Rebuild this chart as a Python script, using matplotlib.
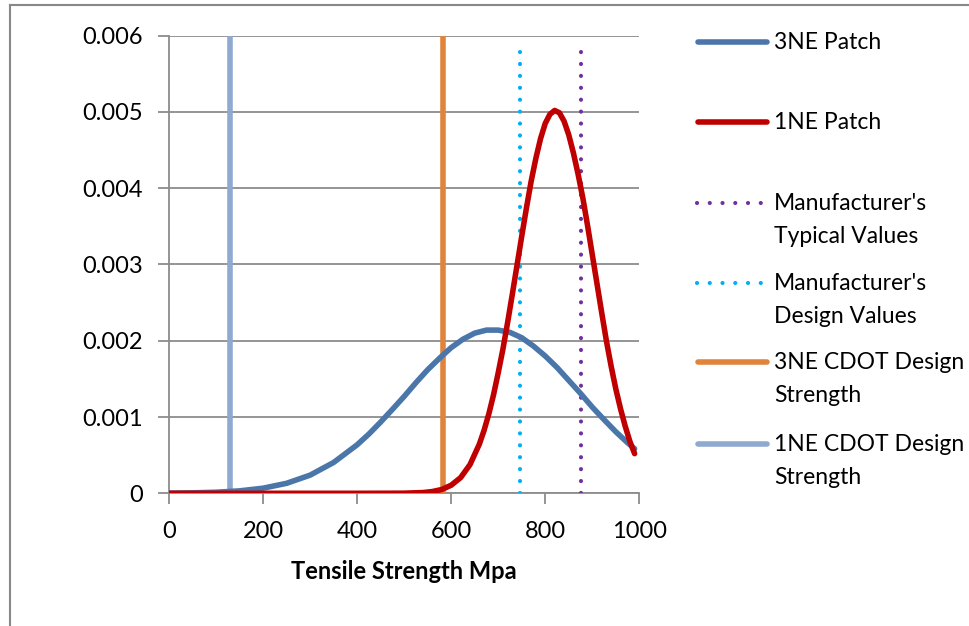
import numpy as np
import matplotlib
matplotlib.use("Agg")
import matplotlib.pyplot as plt
from matplotlib.lines import Line2D

plt.rcParams["font.family"] = ["Lato", "DejaVu Sans"]

# 3NE patch curve
x_3ne = [0, 50, 100, 150, 200, 250, 300, 350, 400, 425, 450, 475, 500, 525, 550,
         575, 600, 625, 650, 675, 700, 725, 750, 775, 800, 825, 850, 875, 900,
         925, 950, 975, 990]
y_3ne = [0.000002, 0.000006, 0.000014, 0.000032, 0.000067, 0.000131, 0.000238,
         0.000404, 0.000636, 0.000777, 0.000934, 0.00110, 0.00127, 0.00145,
         0.00162, 0.00177, 0.00191, 0.00202, 0.00210, 0.00214, 0.00214, 0.00211,
         0.00204, 0.00193, 0.00180, 0.00165, 0.00148, 0.00131, 0.00113,
         0.000966, 0.000807, 0.000663, 0.000584]

# 1NE patch curve
x_1ne = [0, 100, 200, 300, 400, 500, 540, 560, 580, 600, 620, 640, 660, 670, 680,
         690, 700, 710, 720, 730, 740, 750, 760, 770, 780, 790, 800, 810, 820,
         830, 840, 850, 860, 870, 880, 890, 900, 910, 920, 930, 940, 950, 960,
         970, 980, 990]
y_1ne = [0, 0, 0, 0, 0, 0.0000015, 0.0000098, 0.000023, 0.00005, 0.000106,
         0.000205, 0.000376, 0.000646, 0.000827, 0.00104, 0.00129, 0.00158,
         0.00189, 0.00224, 0.00261, 0.00299, 0.00337, 0.00374, 0.00409, 0.00439,
         0.00465, 0.00485, 0.00497, 0.00502, 0.00499, 0.00488, 0.00470, 0.00446,
         0.00418, 0.00387, 0.00351, 0.00313, 0.00275, 0.00237, 0.00200, 0.00167,
         0.00137, 0.00111, 0.00088, 0.00068, 0.00052]

# vertical reference lines
typical_x = 877
design_x = 746
cdot_3ne_x = 583
cdot_1ne_x = 130
ref_top = 0.006
dot_top = 0.00588

x_ticks = [0, 200, 400, 600, 800, 1000]
y_ticks = [0, 0.001, 0.002, 0.003, 0.004, 0.005, 0.006]
y_tick_labels = ["0", "0.001", "0.002", "0.003", "0.004", "0.005", "0.006"]

c_3ne = "#4A76AA"
c_1ne = "#C00000"
c_typ = "#7030A0"
c_des = "#00B0F0"
c_cdot3 = "#E0843C"
c_cdot1 = "#8FA9D1"
grid_c = "#8C8C8C"

W, H = 969, 626
fig = plt.figure(figsize=(W / 100, H / 100), dpi=100)
ax = fig.add_axes([169 / W, 1 - 493.3 / H, (639.3 - 169) / W, (493.3 - 35.7) / H])

lw = 4.0
dlw = 3.0
dot = (0, (0.01, 2.85))

ax.plot([cdot_1ne_x, cdot_1ne_x], [0, ref_top], color=c_cdot1, lw=lw, zorder=3)
ax.plot([cdot_3ne_x, cdot_3ne_x], [0, ref_top], color=c_cdot3, lw=lw, zorder=3)
ax.plot([design_x, design_x], [0, dot_top], color=c_des, lw=dlw, ls=dot,
        dash_capstyle="round", zorder=4)
ax.plot([typical_x, typical_x], [0, dot_top], color=c_typ, lw=dlw, ls=dot,
        dash_capstyle="round", zorder=4)
ax.plot(x_3ne, y_3ne, color=c_3ne, lw=lw, solid_capstyle="round",
        solid_joinstyle="round", zorder=5)
ax.plot(x_1ne, y_1ne, color=c_1ne, lw=lw, solid_capstyle="round",
        solid_joinstyle="round", zorder=6)

ax.set_xlim(0, 1000)
ax.set_ylim(0, 0.006)
ax.set_xticks(x_ticks)
ax.set_yticks(y_ticks)
ax.set_yticklabels(y_tick_labels)
ax.yaxis.grid(True, color=grid_c, lw=1.3)
ax.set_axisbelow(True)
for s in ["top", "right"]:
    ax.spines[s].set_visible(False)
for s in ["left", "bottom"]:
    ax.spines[s].set_color(grid_c)
    ax.spines[s].set_linewidth(1.3)
ax.tick_params(direction="out", length=8, width=1.3, color=grid_c, labelsize=17)
ax.tick_params(axis="x", pad=12)
ax.tick_params(axis="y", pad=11)
ax.set_xlabel("Tensile Strength Mpa", fontsize=17, fontweight="bold", labelpad=13)

# legend drawn by hand so the handle sits on the first text line
leg_labels = ["3NE Patch", "1NE Patch", "Manufacturer's\nTypical Values",
              "Manufacturer's\nDesign Values", "3NE CDOT Design\nStrength",
              "1NE CDOT Design\nStrength"]
leg_colors = [c_3ne, c_1ne, c_typ, c_des, c_cdot3, c_cdot1]
leg_styles = ["-", "-", ":", ":", "-", "-"]
leg_y = [42, 122, 203, 283, 362, 444]
for label, col, style, yp in zip(leg_labels, leg_colors, leg_styles, leg_y):
    yf = 1 - yp / H
    if style == "-":
        fig.add_artist(Line2D([698 / W, 767 / W], [yf, yf], color=col, lw=lw,
                              solid_capstyle="round"))
    else:
        fig.add_artist(Line2D([697 / W, 762 / W], [yf, yf], color=col, lw=dlw,
                              ls=(0, (0.01, 3.05)), dash_capstyle="round"))
    fig.text(774 / W, yf + 10 / H, label, fontsize=16.5, va="top", ha="left",
             linespacing=1.68)

# chart area border (cropped)
fig.add_artist(Line2D([9.5 / W, 9.5 / W], [0, 1 - 5 / H], color="#888888", lw=1.5))
fig.add_artist(Line2D([9.5 / W, 1], [1 - 5 / H, 1 - 5 / H], color="#888888", lw=1.5))

fig.savefig("out.png", dpi=100)
